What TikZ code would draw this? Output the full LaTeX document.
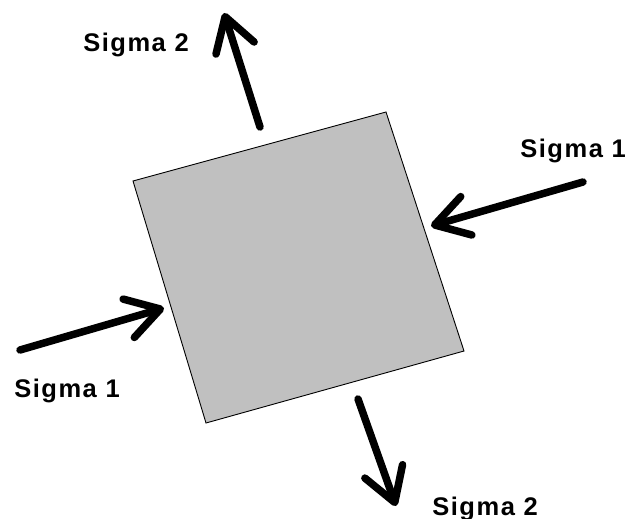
\documentclass[tikz,border=0pt]{standalone}
\usepackage{fontspec}
\setsansfont{Liberation Sans}[LetterSpace=6]
\usepackage{tikz}
\usetikzlibrary{arrows.meta}
\definecolor{plate}{HTML}{C0C0C0}

\begin{document}
\begin{tikzpicture}[
  x=1pt, y=-1pt,
  font=\sffamily\bfseries\fontsize{25.5}{28}\selectfont,
  lbl/.style={inner sep=0pt, anchor=base},
  stress/.style={line width=7.5pt, line cap=round, line join=round,
                 -{Straight Barb[length=33pt, width=40pt, line cap=round, line join=round]}},
  platebox/.style={fill=plate, draw=black, line width=0.9pt, line join=miter}
]
  \useasboundingbox (0,0) rectangle (629,519);

  % the element
  \coordinate (c1) at (133,181);
  \coordinate (c2) at (386,112);
  \coordinate (c3) at (464,351);
  \coordinate (c4) at (206,423);
  \draw[platebox] (c1) -- (c2) -- (c3) -- (c4) -- cycle;

  % ends of the loads
  \coordinate (t2a) at (260,127);  \coordinate (h2a) at (224,13);
  \coordinate (t2b) at (358,399);  \coordinate (h2b) at (396,506);
  \coordinate (t1a) at (583,182);  \coordinate (h1a) at (431,226);
  \coordinate (t1b) at (20,350);   \coordinate (h1b) at (164,308);

  \draw[stress] (t2a) -- (h2a);
  \draw[stress] (t2b) -- (h2b);
  \draw[stress] (t1a) -- (h1a);
  \draw[stress] (t1b) -- (h1b);

  \node[lbl] (s2a) at (136,52) {Sigma 2};
  \node[lbl] (s1a) at (573,157) {Sigma 1};
  \node[lbl] (s1b) at (67,397) {Sigma 1};
  \node[lbl] (s2b) at (485,515) {Sigma 2};
\end{tikzpicture}
\end{document}
